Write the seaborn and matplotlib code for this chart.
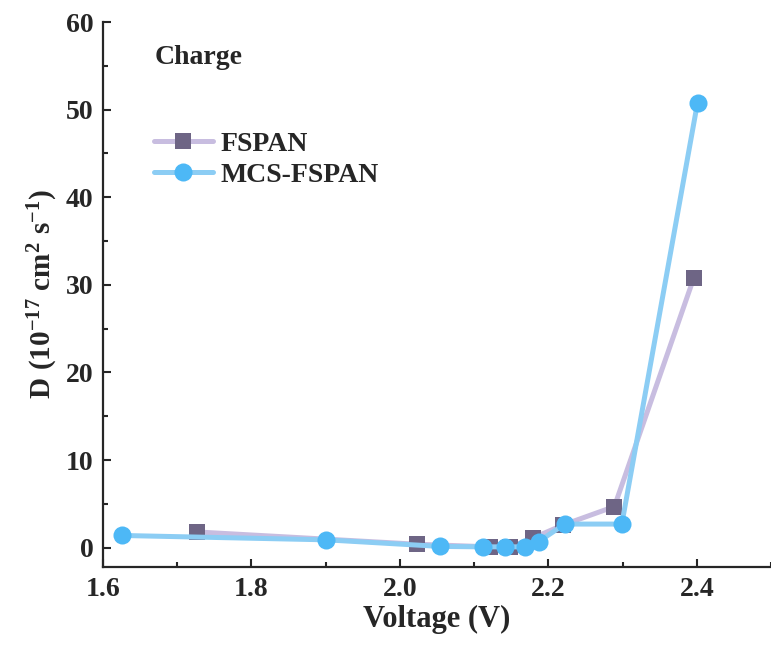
import matplotlib
matplotlib.use("Agg")
import matplotlib.pyplot as plt
from matplotlib.ticker import MultipleLocator, FormatStrFormatter
import pandas as pd
import seaborn as sns

# Diffusion coefficients during charge (units of 1e-17 cm^2 s^-1)
fspan_voltage = [1.727, 2.023, 2.121, 2.149, 2.179, 2.220, 2.289, 2.396]
fspan_d = [1.8, 0.4, 0.1, 0.1, 1.1, 2.6, 4.7, 30.8]

mcs_voltage = [1.625, 1.901, 2.054, 2.112, 2.141, 2.168, 2.187, 2.222, 2.299, 2.401]
mcs_d = [1.4, 0.9, 0.15, 0.1, 0.1, 0.1, 0.7, 2.7, 2.7, 50.8]

series_names = ["FSPAN", "MCS-FSPAN"]

sns.set_style("ticks")
plt.rcParams["font.family"] = ["Liberation Serif", "DejaVu Serif"]
plt.rcParams["font.weight"] = "bold"
plt.rcParams["mathtext.fontset"] = "custom"
plt.rcParams["mathtext.rm"] = "Liberation Serif:bold"
plt.rcParams["mathtext.bf"] = "Liberation Serif:bold"
plt.rcParams["mathtext.it"] = "Liberation Serif:bold"

fig = plt.figure(figsize=(7.71, 6.59), dpi=100)
ax = fig.add_axes([0.1336, 0.1396, 0.8664, 0.827])

df_f = pd.DataFrame({"Voltage": fspan_voltage, "D": fspan_d})
df_m = pd.DataFrame({"Voltage": mcs_voltage, "D": mcs_d})

sns.lineplot(data=df_f, x="Voltage", y="D", ax=ax, color="#c8bde0", lw=3.6,
             marker="s", markersize=11, markerfacecolor="#6e6585",
             markeredgecolor="#6e6585", markeredgewidth=0, label=series_names[0],
             sort=False)
sns.lineplot(data=df_m, x="Voltage", y="D", ax=ax, color="#8ccdf4", lw=3.6,
             marker="o", markersize=13, markerfacecolor="#4db8f6",
             markeredgecolor="#4db8f6", markeredgewidth=0, label=series_names[1],
             sort=False)

ax.set_xlim(1.6, 2.5)
ax.set_ylim(-2.2, 60)
ax.xaxis.set_major_locator(MultipleLocator(0.2))
ax.xaxis.set_minor_locator(MultipleLocator(0.1))
ax.yaxis.set_major_locator(MultipleLocator(10))
ax.yaxis.set_minor_locator(MultipleLocator(5))
ax.xaxis.set_major_formatter(FormatStrFormatter("%.1f"))

ax.tick_params(which="major", direction="in", length=6, width=1.5,
               labelsize=20, pad=7)
ax.tick_params(which="minor", direction="in", length=3.5, width=1.5)
for lab in ax.get_xticklabels() + ax.get_yticklabels():
    lab.set_fontweight("bold")

sns.despine(ax=ax, top=True, right=True)
for s in ("left", "bottom"):
    ax.spines[s].set_linewidth(1.6)

ax.set_xlabel("Voltage (V)", fontsize=22, fontweight="bold", labelpad=2)
ax.set_ylabel(r"$\mathbf{D\ (10^{-17}\ cm^{2}\ s^{-1})}$", fontsize=21, labelpad=4)

ax.text(0.078, 0.935, "Charge", transform=ax.transAxes, fontsize=20,
        fontweight="bold", va="center", ha="left")

leg = ax.legend(loc="upper left", bbox_to_anchor=(0.06, 0.82), frameon=False,
                prop={"family": "Liberation Serif", "weight": "bold", "size": 20},
                handlelength=2.1, handletextpad=0.3, labelspacing=0.2,
                borderaxespad=0.0)

fig.savefig("out.png", dpi=100)
